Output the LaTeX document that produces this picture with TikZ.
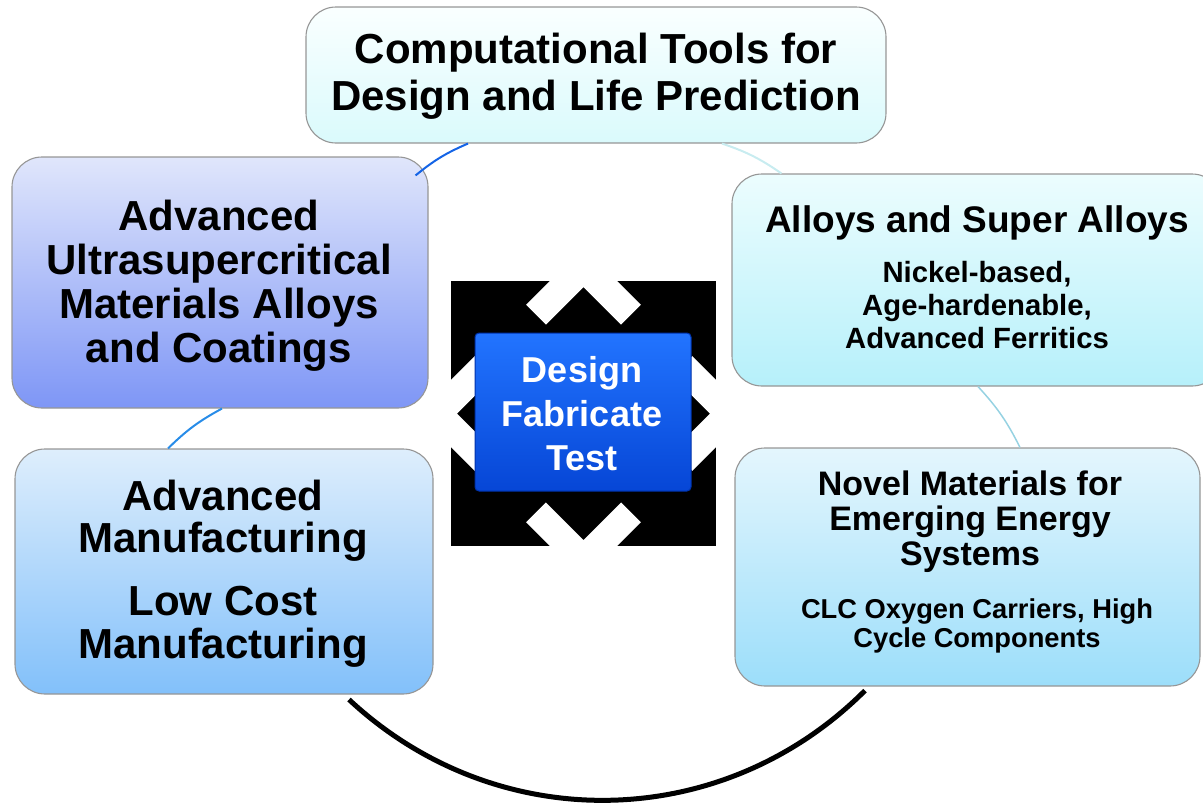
\documentclass[tikz,border=0pt]{standalone}
\usepackage{fontspec}
\setmainfont{Liberation Sans}
\usetikzlibrary{calc}

\definecolor{edgegray}{RGB}{150,150,150}
\definecolor{topA}{RGB}{250,255,255}
\definecolor{topB}{RGB}{218,250,252}
\definecolor{luA}{RGB}{224,230,251}
\definecolor{luB}{RGB}{126,150,246}
\definecolor{llA}{RGB}{222,238,252}
\definecolor{llB}{RGB}{130,192,250}
\definecolor{ruA}{RGB}{236,253,254}
\definecolor{ruB}{RGB}{182,240,250}
\definecolor{rlA}{RGB}{228,246,253}
\definecolor{rlB}{RGB}{156,222,250}
\definecolor{coreA}{RGB}{34,116,255}
\definecolor{coreB}{RGB}{6,70,214}
\definecolor{coreEdge}{RGB}{0,50,170}
\definecolor{linkA}{RGB}{20,100,230}
\definecolor{linkB}{RGB}{200,236,240}
\definecolor{linkC}{RGB}{150,210,226}
\definecolor{linkD}{RGB}{40,140,232}

\begin{document}
\begin{tikzpicture}[x=1pt,y=-1pt,
  panel/.style={rounded corners=30pt, draw=edgegray, line width=1.1pt, inner sep=0pt},
  hd/.style={font=\bfseries\fontsize{42}{46}\selectfont, anchor=base, inner sep=0pt},
  hdm/.style={font=\bfseries\fontsize{37}{40}\selectfont, anchor=base, inner sep=0pt},
  hds/.style={font=\bfseries\fontsize{34}{36}\selectfont, anchor=base, inner sep=0pt},
  sub/.style={font=\bfseries\fontsize{29.3}{33}\selectfont, anchor=base, inner sep=0pt},
  subs/.style={font=\bfseries\fontsize{27.3}{29}\selectfont, anchor=base, inner sep=0pt},
  coretxt/.style={font=\bfseries\fontsize{36}{44}\selectfont, text=white, anchor=base, inner sep=0pt},
  link/.style={line width=2pt}
]
\useasboundingbox (0,0) rectangle (1203,804);

% outer panels
\node[panel, minimum width=580pt, minimum height=136pt, top color=topA, bottom color=topB] (top) at (596,75) {};
\node[panel, minimum width=416pt, minimum height=251pt, top color=luA, bottom color=luB] (lu) at (220,282.5) {};
\node[panel, minimum width=418pt, minimum height=245pt, top color=llA, bottom color=llB] (ll) at (224,571.5) {};
\node[panel, minimum width=490pt, minimum height=212pt, top color=ruA, bottom color=ruB] (ru) at (977,280) {};
\node[panel, minimum width=465pt, minimum height=238pt, top color=rlA, bottom color=rlB] (rl) at (967.5,567) {};

% cycle connectors
\draw[link, linkA] ($(top.south)+(-128,0)$) to[bend right=8] ($(lu.north east)+(-13,19)$);
\draw[link, linkB] ($(top.south)+(126,0)$) to[bend left=8] ($(ru.north west)+(50,0)$);
\draw[link, linkC, line width=1.5pt] ($(ru.south)+(1,0)$) to[bend left=8] ($(rl.north)+(52.5,0)$);
\draw[line width=5pt, black] ($(rl.south)+(-102.5,4)$) to[bend left=44] ($(ll.south)+(125,5)$);
\draw[link, linkD] ($(ll.north)+(-56,0)$) to[bend left=8] ($(lu.south)+(2,0)$);

% four-way hub with chevrons
\begin{scope}[shift={(583.5,413.5)}]
  \clip (-132.5,-132.5) rectangle (132.5,132.5);
  \fill[black] (-132.5,-132.5) rectangle (132.5,132.5);
  \foreach \a in {0,90,180,270}
    \draw[white, line width=28pt, line join=miter, line cap=butt, rotate=\a]
      (-47.5,-98.8) -- (0,-146.3) -- (47.5,-98.8);
\end{scope}
\node[rounded corners=4pt, draw=coreEdge, line width=1pt, top color=coreA, bottom color=coreB,
      minimum width=216pt, minimum height=158pt, inner sep=0pt] (core) at (583,412) {};
\node[coretxt] (core1) at (582,382) {Design};
\node[coretxt] (core2) at (582,426) {Fabricate};
\node[coretxt] (core3) at (582,470) {Test};

% panel texts
\node[hd] (top1) at (596,63.5) {Computational Tools for};
\node[hd] (top2) at (596,110) {Design and Life Prediction};

\node[hd] (lu1) at (219,230) {Advanced};
\node[hd] (lu2) at (219,274) {Ultrasupercritical};
\node[hd] (lu3) at (219,318) {Materials Alloys};
\node[hd] (lu4) at (219,362) {and Coatings};

\node[hd] (ll1) at (223,510) {Advanced};
\node[hd] (ll2) at (223,552) {Manufacturing};
\node[hd] (ll3) at (223,615) {Low Cost};
\node[hd] (ll4) at (223,658) {Manufacturing};

\node[hdm] (ru1) at (977,232) {Alloys and Super Alloys};
\node[sub] (ru2) at (977,282) {Nickel-based,};
\node[sub] (ru3) at (977,315) {Age-hardenable,};
\node[sub] (ru4) at (977,348) {Advanced Ferritics};

\node[hds] (rl1) at (970,495) {Novel Materials for};
\node[hds] (rl2) at (970,530) {Emerging Energy};
\node[hds] (rl3) at (970,565) {Systems};
\node[subs] (rl4) at (977,618) {CLC Oxygen Carriers, High};
\node[subs] (rl5) at (977,647) {Cycle Components};
\end{tikzpicture}
\end{document}
